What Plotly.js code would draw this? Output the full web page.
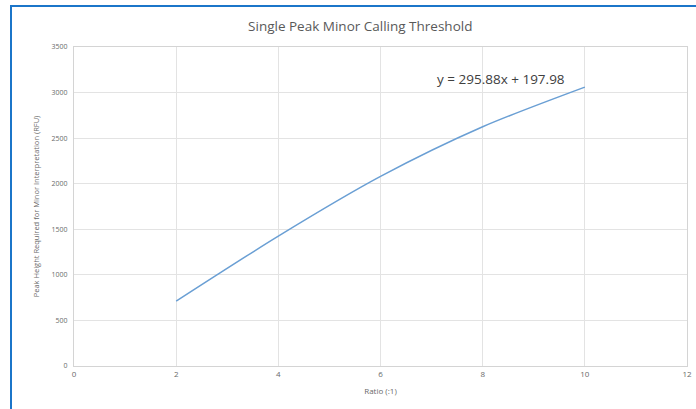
<!DOCTYPE html>
<html>
<head>
<meta charset="utf-8">
<script src="https://cdn.plot.ly/plotly-3.0.1.min.js"></script>
<style>
  html, body { margin: 0; padding: 0; background: #ffffff; }
  #wrap { position: relative; width: 696px; height: 409px; overflow: hidden; }
  #chart { position: absolute; left: 0; top: 0; width: 696px; height: 409px; }
  #frameL { position: absolute; left: 10px; top: 5px; width: 2px; height: 404px; background: #1b75c9; }
  #frameT { position: absolute; left: 10px; top: 5px; width: 686px; height: 2px; background: #1b75c9; }
</style>
</head>
<body>
<div id="wrap">
  <div id="chart"></div>
  <div id="frameL"></div>
  <div id="frameT"></div>
</div>
<script>
const ratios = [2, 4, 6, 8, 10];
const peakHeights = [712, 1425, 2080, 2625, 3060];
const chartTitle = "Single Peak Minor Calling Threshold";
const xTitle = "Ratio (:1)";
const yTitle = "Peak Height Required for Minor Interpretation (RFU)";
const equation = "y = 295.88x + 197.98";

const trace = {
  x: ratios,
  y: peakHeights,
  type: "scatter",
  mode: "lines",
  line: { color: "#6a9fd4", width: 1.5, shape: "spline", smoothing: 0.8 },
  hoverinfo: "skip"
};

const layout = {
  width: 696,
  height: 409,
  margin: { l: 74, r: 9, t: 47, b: 43 },
  paper_bgcolor: "#ffffff",
  plot_bgcolor: "#ffffff",
  showlegend: false,
  font: { family: "Open Sans, Noto Sans, sans-serif", color: "#595959" },
  title: {
    text: chartTitle,
    font: { family: "Open Sans, sans-serif", size: 13.5, color: "#595959" },
    x: 0.467, xanchor: "center", xref: "paper",
    y: 0.935, yanchor: "middle", yref: "container"
  },
  xaxis: {
    range: [0, 12],
    tickvals: [0, 2, 4, 6, 8, 10, 12],
    ticks: "",
    showgrid: true,
    gridcolor: "#e3e3e3",
    gridwidth: 1,
    zeroline: false,
    showline: true,
    mirror: true,
    linecolor: "#d4d4d4",
    linewidth: 1,
    tickfont: { size: 8, color: "#6a6a6a" },
    title: { text: xTitle, font: { size: 8, color: "#6a6a6a" }, standoff: 10 },
    fixedrange: true
  },
  yaxis: {
    range: [0, 3500],
    tickvals: [0, 500, 1000, 1500, 2000, 2500, 3000, 3500],
    ticks: "",
    showgrid: true,
    gridcolor: "#e3e3e3",
    gridwidth: 1,
    zeroline: false,
    showline: true,
    mirror: true,
    linecolor: "#d4d4d4",
    linewidth: 1,
    ticklabelstandoff: 4,
    tickfont: { size: 7, color: "#6a6a6a" },
    title: { text: yTitle, font: { size: 7.5, color: "#6a6a6a" }, standoff: 10 },
    fixedrange: true
  },
  annotations: [{
    text: equation,
    xref: "x", yref: "y",
    x: 8.36, y: 3150,
    xanchor: "center", yanchor: "middle",
    showarrow: false,
    font: { family: "Open Sans, sans-serif", size: 13.5, color: "#404040" }
  }]
};

Plotly.newPlot("chart", [trace], layout, { displayModeBar: false, staticPlot: true });
</script>
</body>
</html>
